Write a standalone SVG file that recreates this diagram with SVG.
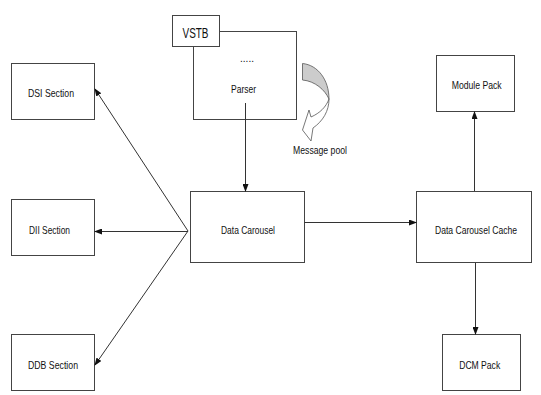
<svg xmlns="http://www.w3.org/2000/svg" width="541" height="395" viewBox="0 0 541 395">
<defs>
<marker id="ah" markerWidth="8" markerHeight="6" refX="7" refY="3" orient="auto" markerUnits="userSpaceOnUse">
<path d="M0,0 L8,3 L0,6 Z" fill="#111"/>
</marker>
<style>
.box{fill:#fff;stroke:#444;stroke-width:1}
.lbl{font-family:"Liberation Sans",Arial,sans-serif;font-size:11px;fill:#111;text-anchor:middle}
.edge{stroke:#333;stroke-width:1;fill:none}
</style>
</defs>
<rect width="541" height="395" fill="#fff"/>
<g id="parser">
<rect class="box" x="193.5" y="31.5" width="103" height="88"/>
<text class="lbl" x="247" y="62" textLength="14" lengthAdjust="spacingAndGlyphs">.....</text>
<text class="lbl" x="243.5" y="93" textLength="25" lengthAdjust="spacingAndGlyphs">Parser</text>
</g>
<g id="vstb">
<rect class="box" x="172.5" y="15.5" width="47" height="31"/>
<text class="lbl" x="195.5" y="37.5" style="font-size:15px" textLength="26" lengthAdjust="spacingAndGlyphs">VSTB</text>
</g>
<g id="message-pool">
<path d="M302.5,63.5 C318,65 329,80 329,99 C325,90 315,81 302.5,80 Z" fill="#ccc" stroke="#555" stroke-width="0.8"/>
<path d="M329,99 C329,111 323,121 313,128 L311,141 L302.5,130 L309,110 L311,117 C320,113 326,107 329,99 Z" fill="#fff" stroke="#555" stroke-width="0.8"/>
<text class="lbl" x="320" y="154" textLength="54" lengthAdjust="spacingAndGlyphs">Message pool</text>
</g>
<g id="dsi">
<rect class="box" x="11.5" y="63.5" width="83" height="56"/>
<text class="lbl" x="51" y="97" textLength="46" lengthAdjust="spacingAndGlyphs">DSI Section</text>
</g>
<g id="dii">
<rect class="box" x="11.5" y="199.5" width="83" height="56"/>
<text class="lbl" x="49.5" y="234" textLength="41" lengthAdjust="spacingAndGlyphs">DII Section</text>
</g>
<g id="ddb">
<rect class="box" x="11.5" y="334.5" width="83" height="56"/>
<text class="lbl" x="53" y="369" textLength="50" lengthAdjust="spacingAndGlyphs">DDB Section</text>
</g>
<g id="data-carousel">
<rect class="box" x="190.5" y="191.5" width="114" height="71"/>
<text class="lbl" x="248" y="234" textLength="54" lengthAdjust="spacingAndGlyphs">Data Carousel</text>
</g>
<g id="dc-cache">
<rect class="box" x="416.5" y="191.5" width="115" height="71"/>
<text class="lbl" x="476" y="234" textLength="82" lengthAdjust="spacingAndGlyphs">Data Carousel Cache</text>
</g>
<g id="module-pack">
<rect class="box" x="436.5" y="55.5" width="78" height="56"/>
<text class="lbl" x="476.7" y="89" textLength="50" lengthAdjust="spacingAndGlyphs">Module Pack</text>
</g>
<g id="dcm-pack">
<rect class="box" x="442.5" y="334.5" width="78" height="56"/>
<text class="lbl" x="479.7" y="369" textLength="41" lengthAdjust="spacingAndGlyphs">DCM Pack</text>
</g>
<g id="connectors">
<line class="edge" x1="245.5" y1="103" x2="245.5" y2="191" marker-end="url(#ah)"/>
<line class="edge" x1="188" y1="231" x2="95" y2="89" marker-end="url(#ah)"/>
<line class="edge" x1="188" y1="231.5" x2="95" y2="231.5" marker-end="url(#ah)"/>
<line class="edge" x1="188" y1="231" x2="95" y2="365" marker-end="url(#ah)"/>
<line class="edge" x1="304.5" y1="222.5" x2="416" y2="222.5" marker-end="url(#ah)"/>
<line class="edge" x1="474.5" y1="191" x2="474.5" y2="112" marker-end="url(#ah)"/>
<line class="edge" x1="475.5" y1="263" x2="475.5" y2="334" marker-end="url(#ah)"/>
</g>
</svg>
